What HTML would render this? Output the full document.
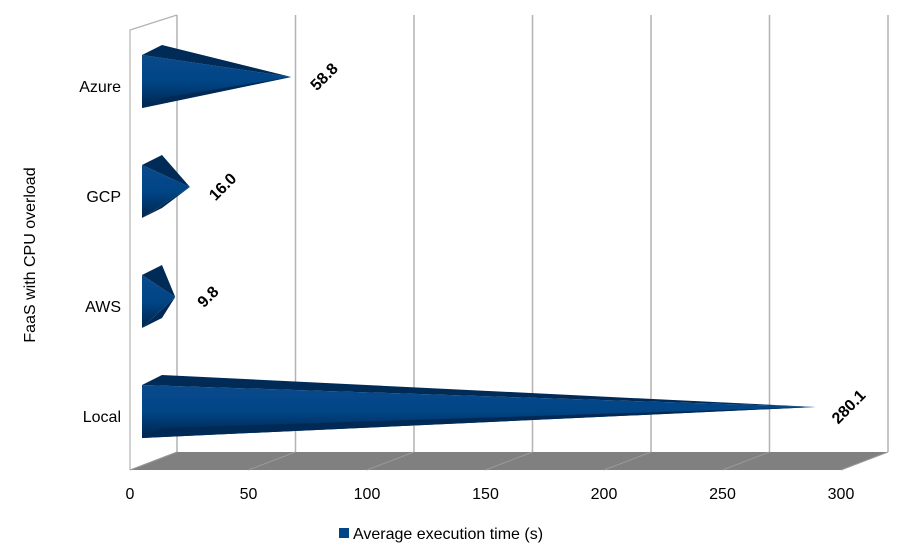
<!DOCTYPE html>
<html><head><meta charset="utf-8"><style>
body{margin:0;background:#fff;}
svg text{font-family:"Liberation Sans",sans-serif;}
</style></head><body>
<svg width="913" height="548" xmlns="http://www.w3.org/2000/svg">
<defs>
<linearGradient id="g" x1="0" y1="0" x2="0" y2="1">
<stop offset="0" stop-color="#0a4a8c"/><stop offset="0.5" stop-color="#004586"/><stop offset="1" stop-color="#00254c"/>
</linearGradient>
</defs>
<g id="walls"></g>
<g id="bars"></g>
<g id="labels"></g>
<text x="35" y="255" font-size="16" text-anchor="middle" transform="rotate(-90 35 255)" fill="#000">FaaS with CPU overload</text>
<rect x="339" y="528" width="10" height="10" fill="#004586"/>
<text x="353" y="539" font-size="16">Average execution time (s)</text>
</svg>
<script>
const categories=["Azure","GCP","AWS","Local"];
const values=[58.8,16.0,9.8,280.1];
const valueLabels=["58.8","16.0","9.8","280.1"];
const ticks=[0,50,100,150,200,250,300];
const NS="http://www.w3.org/2000/svg";
function mk(t,a,p){const e=document.createElementNS(NS,t);for(const k in a)e.setAttribute(k,a[k]);p.appendChild(e);return e;}
const xFront=v=>130+v*2.37, xBack=v=>177+v*2.37, xTip=v=>152+v*2.37;
const yC=i=>77+i*110;
const walls=document.getElementById('walls');
const fl=mk('polygon',{points:"130,470 177,452 888,452 841,470",fill:"#808080"},walls);


const lw=mk('polyline',{points:"130,470 130,30 177,15",fill:"none",stroke:"#b3b3b3","stroke-width":1.2},walls);


ticks.forEach(t=>{
  const g=mk('line',{x1:xBack(t),y1:15,x2:xBack(t),y2:452,stroke:"#b3b3b3","stroke-width":1.5},walls);
  
  
  const d=mk('line',{x1:xFront(t),y1:470,x2:xBack(t),y2:452,stroke:"#9a9a9a","stroke-width":1},walls);
  
  
  const tx=mk('text',{x:xFront(t),y:499,"font-size":16,"text-anchor":"middle"},walls);
  tx.textContent=t;
  
  
});
const bars=document.getElementById('bars'),labels=document.getElementById('labels');
categories.forEach((c,i)=>{
  const cy=yC(i),tx=xTip(values[i]);
  const main=mk('polygon',{points:`142,${cy-22} 142,${cy+31} ${tx},${cy}`,fill:"url(#g)"},bars);
  
  
  const top=mk('polygon',{points:`142,${cy-22} 162,${cy-32} ${tx},${cy}`,fill:"#002b57"},bars);
  
  
  const bot=mk('polygon',{points:`142,${cy+31} 162,${cy+21} ${tx},${cy}`,fill:"#002a55"},bars);
  
  
  const cl=mk('text',{x:121,y:cy+15,"font-size":16,"text-anchor":"end"},labels);
  cl.textContent=c;
  
  
  const lx=tx+33,ly=cy;
  const vl=mk('text',{x:lx,y:ly+5,"font-size":16,"font-weight":"bold","text-anchor":"middle",transform:`rotate(-45 ${lx} ${ly})`},labels);
  vl.textContent=valueLabels[i];
  
  
});
</script>
</body></html>
